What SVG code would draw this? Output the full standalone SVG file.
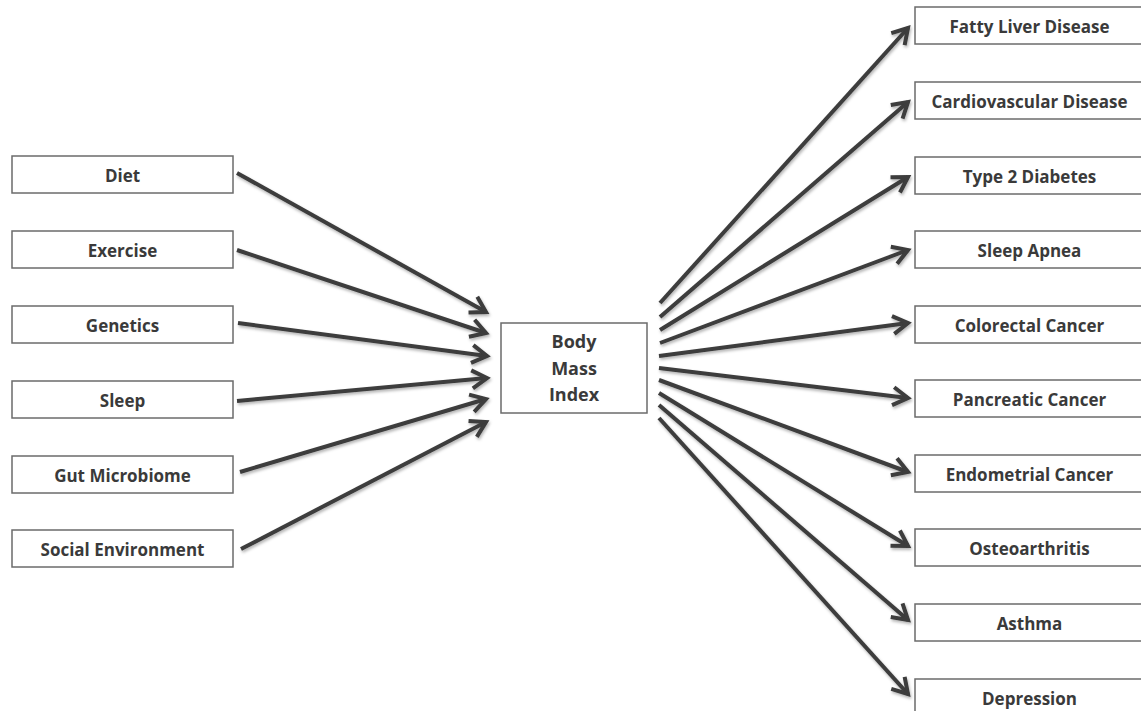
<svg xmlns="http://www.w3.org/2000/svg" width="1141" height="711" viewBox="0 0 1141 711">
  <style>
    .box { fill: #ffffff; stroke: #6b6b6b; stroke-width: 1.5; }
    .lbl { font-family: "Open Sans", Lato, "Liberation Sans", sans-serif; font-weight: bold; font-size: 17px; fill: #3a3a3a; text-anchor: middle; }
    .big { font-size: 18px; }
    .edge { stroke: #3c3c3c; stroke-width: 4; fill: none; marker-end: url(#head); }
  </style>
  <defs>
    <marker id="head" markerUnits="userSpaceOnUse" viewBox="-20 -12 24 24" markerWidth="24" markerHeight="24" refX="0" refY="0" orient="auto" overflow="visible">
      <path d="M-15,-9 L0,0 L-15,9" fill="none" stroke="#3c3c3c" stroke-width="4" stroke-linejoin="miter" stroke-linecap="butt"/>
    </marker>
    <filter id="soft" x="-10%" y="-10%" width="120%" height="120%">
      <feDropShadow dx="1" dy="2" stdDeviation="1.5" flood-color="#000" flood-opacity="0.3"/>
    </filter>
  </defs>
  <rect width="1141" height="711" fill="#ffffff"/>

  <!-- connectors -->
  <g id="connectors" filter="url(#soft)">
    <line class="edge" x1="237" y1="173" x2="486" y2="312"/>
    <line class="edge" x1="237" y1="250" x2="486" y2="333"/>
    <line class="edge" x1="238" y1="323" x2="487" y2="356"/>
    <line class="edge" x1="237" y1="401" x2="487" y2="378"/>
    <line class="edge" x1="240" y1="472" x2="486" y2="399"/>
    <line class="edge" x1="241" y1="549" x2="486" y2="422"/>

    <line class="edge" x1="660" y1="303" x2="908" y2="28"/>
    <line class="edge" x1="660" y1="317" x2="908" y2="102"/>
    <line class="edge" x1="660" y1="330" x2="908" y2="177"/>
    <line class="edge" x1="660" y1="343" x2="908" y2="250"/>
    <line class="edge" x1="659" y1="356" x2="908" y2="323"/>
    <line class="edge" x1="659" y1="368" x2="908" y2="398"/>
    <line class="edge" x1="659" y1="380" x2="908" y2="472"/>
    <line class="edge" x1="659" y1="393" x2="908" y2="546"/>
    <line class="edge" x1="659" y1="405" x2="908" y2="620"/>
    <line class="edge" x1="659" y1="418" x2="908" y2="694"/>
  </g>

  <!-- causes -->
  <g id="diet"><rect class="box" x="12" y="156" width="221" height="37"/><text class="lbl" x="122.5" y="182">Diet</text></g>
  <g id="exercise"><rect class="box" x="12" y="231" width="221" height="37"/><text class="lbl" x="122.5" y="257">Exercise</text></g>
  <g id="genetics"><rect class="box" x="12" y="306" width="221" height="37"/><text class="lbl" x="122.5" y="332">Genetics</text></g>
  <g id="sleep"><rect class="box" x="12" y="381" width="221" height="37"/><text class="lbl" x="122.5" y="407">Sleep</text></g>
  <g id="gut-microbiome"><rect class="box" x="12" y="456" width="221" height="37"/><text class="lbl" x="122.5" y="482">Gut Microbiome</text></g>
  <g id="social-environment"><rect class="box" x="12" y="530" width="221" height="37"/><text class="lbl" x="122.5" y="556">Social Environment</text></g>

  <!-- central node -->
  <g id="bmi">
    <rect class="box" x="501" y="323" width="146" height="90"/>
    <text class="lbl big" x="574" y="348">Body</text>
    <text class="lbl big" x="574" y="375">Mass</text>
    <text class="lbl big" x="574" y="401">Index</text>
  </g>

  <!-- outcomes -->
  <g id="fatty-liver"><rect class="box" x="915" y="7" width="232" height="37"/><text class="lbl" x="1029.5" y="33">Fatty Liver Disease</text></g>
  <g id="cardiovascular"><rect class="box" x="915" y="82" width="232" height="37"/><text class="lbl" x="1029.5" y="108">Cardiovascular Disease</text></g>
  <g id="type2-diabetes"><rect class="box" x="915" y="157" width="232" height="37"/><text class="lbl" x="1029.5" y="183">Type 2 Diabetes</text></g>
  <g id="sleep-apnea"><rect class="box" x="915" y="231" width="232" height="37"/><text class="lbl" x="1029.5" y="257">Sleep Apnea</text></g>
  <g id="colorectal"><rect class="box" x="915" y="306" width="232" height="37"/><text class="lbl" x="1029.5" y="332">Colorectal Cancer</text></g>
  <g id="pancreatic"><rect class="box" x="915" y="380" width="232" height="37"/><text class="lbl" x="1029.5" y="406">Pancreatic Cancer</text></g>
  <g id="endometrial"><rect class="box" x="915" y="455" width="232" height="37"/><text class="lbl" x="1029.5" y="481">Endometrial Cancer</text></g>
  <g id="osteoarthritis"><rect class="box" x="915" y="529" width="232" height="37"/><text class="lbl" x="1029.5" y="555">Osteoarthritis</text></g>
  <g id="asthma"><rect class="box" x="915" y="604" width="232" height="37"/><text class="lbl" x="1029.5" y="630">Asthma</text></g>
  <g id="depression"><rect class="box" x="915" y="679" width="232" height="37"/><text class="lbl" x="1029.5" y="705">Depression</text></g>
</svg>
